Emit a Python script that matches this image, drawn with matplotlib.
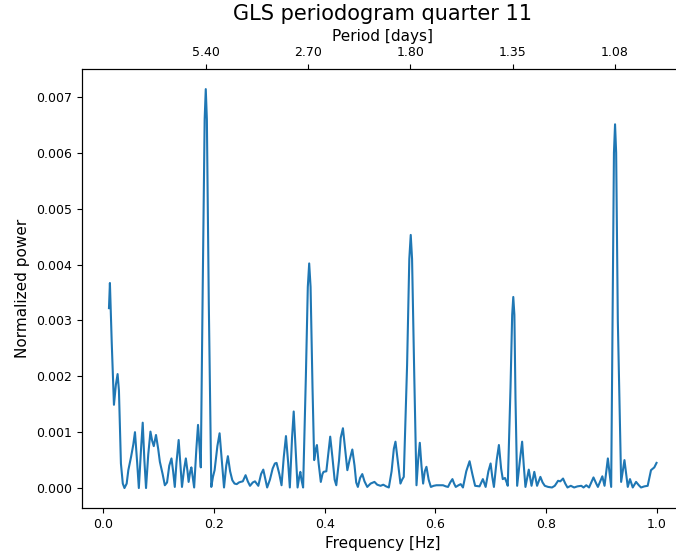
import numpy as np
import matplotlib.pyplot as plt

# GLS periodogram values (power in units of 1e-3)
freq = [
    0.010, 0.0117, 0.015, 0.019, 0.0225, 0.0256, 0.028, 0.0316, 0.035, 0.038,
    0.042, 0.045, 0.050, 0.054, 0.057, 0.061, 0.064, 0.068, 0.071, 0.074,
    0.077, 0.081, 0.085, 0.088, 0.091, 0.095, 0.099, 0.102, 0.107, 0.111,
    0.115, 0.119, 0.123, 0.126, 0.129, 0.132, 0.136, 0.139, 0.142, 0.146,
    0.149, 0.152, 0.154, 0.157, 0.159, 0.162, 0.164, 0.168, 0.171, 0.174,
    0.176, 0.1795, 0.183, 0.185, 0.187, 0.1905, 0.195, 0.198, 0.201, 0.206,
    0.210, 0.214, 0.218, 0.222, 0.225, 0.229, 0.233, 0.237, 0.241, 0.245,
    0.248, 0.252, 0.257, 0.261, 0.265, 0.270, 0.274, 0.277, 0.280, 0.285,
    0.289, 0.293, 0.296, 0.301, 0.306, 0.310, 0.313, 0.318, 0.322, 0.326,
    0.330, 0.334, 0.337, 0.341, 0.344, 0.348, 0.351, 0.354, 0.356, 0.358,
    0.361, 0.366, 0.3695, 0.372, 0.3745, 0.378, 0.381, 0.384, 0.386, 0.389,
    0.393, 0.396, 0.398, 0.403, 0.407, 0.410, 0.414, 0.418, 0.421, 0.426,
    0.429, 0.433, 0.437, 0.441, 0.445, 0.450, 0.454, 0.457, 0.460, 0.464,
    0.468, 0.472, 0.477, 0.483, 0.490, 0.495, 0.501, 0.506, 0.511, 0.516,
    0.521, 0.525, 0.528, 0.532, 0.537, 0.540, 0.543, 0.549, 0.553, 0.5556,
    0.558, 0.562, 0.566, 0.569, 0.572, 0.575, 0.578, 0.581, 0.584, 0.588,
    0.592, 0.597, 0.602, 0.608, 0.614, 0.619, 0.623, 0.627, 0.631, 0.634,
    0.637, 0.642, 0.646, 0.650, 0.656, 0.662, 0.667, 0.672, 0.680, 0.686,
    0.691, 0.696, 0.700, 0.703, 0.706, 0.711, 0.715, 0.719, 0.722, 0.726,
    0.729, 0.731, 0.736, 0.739, 0.741, 0.743, 0.745, 0.748, 0.753, 0.757,
    0.760, 0.763, 0.769, 0.774, 0.779, 0.784, 0.790, 0.794, 0.798, 0.804,
    0.811, 0.816, 0.822, 0.826, 0.831, 0.835, 0.839, 0.845, 0.851, 0.857,
    0.864, 0.868, 0.873, 0.878, 0.886, 0.891, 0.894, 0.902, 0.906, 0.912,
    0.918, 0.9205, 0.923, 0.925, 0.927, 0.930, 0.936, 0.942, 0.948, 0.952,
    0.957, 0.963, 0.968, 0.972, 0.978, 0.984, 0.990, 0.996, 1.000,
]
power_e3 = [
    3.22, 3.67, 2.60, 1.49, 1.85, 2.04, 1.75, 0.44, 0.08, 0.00,
    0.08, 0.32, 0.56, 0.78, 1.00, 0.45, 0.00, 0.70, 1.17, 0.50,
    0.00, 0.60, 1.01, 0.85, 0.75, 0.95, 0.70, 0.47, 0.25, 0.05,
    0.10, 0.40, 0.53, 0.30, 0.02, 0.45, 0.86, 0.45, 0.02, 0.35,
    0.53, 0.30, 0.11, 0.30, 0.37, 0.15, 0.01, 0.70, 1.13, 0.70,
    0.37, 3.60, 6.60, 7.14, 6.60, 3.30, 0.02, 0.20, 0.32, 0.75,
    0.98, 0.50, 0.01, 0.40, 0.57, 0.30, 0.14, 0.08, 0.07, 0.10,
    0.11, 0.12, 0.23, 0.12, 0.04, 0.10, 0.12, 0.08, 0.04, 0.25,
    0.33, 0.15, 0.01, 0.15, 0.35, 0.44, 0.45, 0.25, 0.05, 0.55,
    0.93, 0.45, 0.01, 0.90, 1.37, 0.60, 0.01, 0.20, 0.29, 0.15,
    0.01, 2.00, 3.60, 4.02, 3.60, 1.80, 0.50, 0.70, 0.77, 0.45,
    0.11, 0.25, 0.29, 0.30, 0.65, 0.92, 0.55, 0.15, 0.05, 0.50,
    0.90, 1.07, 0.70, 0.32, 0.50, 0.69, 0.40, 0.10, 0.02, 0.18,
    0.25, 0.12, 0.02, 0.08, 0.11, 0.06, 0.04, 0.06, 0.03, 0.01,
    0.30, 0.70, 0.83, 0.50, 0.08, 0.15, 0.20, 2.20, 4.10, 4.53,
    4.10, 2.00, 0.05, 0.50, 0.81, 0.40, 0.08, 0.30, 0.38, 0.15,
    0.02, 0.04, 0.05, 0.05, 0.05, 0.03, 0.02, 0.10, 0.16, 0.08,
    0.02, 0.05, 0.07, 0.01, 0.30, 0.48, 0.25, 0.04, 0.03, 0.16,
    0.02, 0.30, 0.44, 0.20, 0.02, 0.50, 0.77, 0.35, 0.16, 0.18,
    0.10, 0.04, 1.80, 3.10, 3.42, 3.10, 1.60, 0.04, 0.50, 0.83,
    0.40, 0.02, 0.33, 0.04, 0.29, 0.04, 0.20, 0.10, 0.04, 0.02,
    0.01, 0.04, 0.13, 0.12, 0.17, 0.08, 0.01, 0.04, 0.01, 0.03,
    0.04, 0.01, 0.05, 0.01, 0.19, 0.08, 0.02, 0.21, 0.04, 0.53,
    0.02, 3.00, 6.00, 6.51, 6.00, 3.00, 0.11, 0.50, 0.02, 0.16,
    0.01, 0.11, 0.05, 0.01, 0.03, 0.04, 0.32, 0.37, 0.45,
]

# top axis: period ticks at the main peaks
period_freqs = [0.185, 0.370, 0.555, 0.740, 0.925]
period_labels = ['5.40', '2.70', '1.80', '1.35', '1.08']

freq = np.array(freq)
power = np.array(power_e3) * 1e-3

fig = plt.figure(figsize=(6.76, 5.55), dpi=100)
ax = fig.add_axes([0.1207, 0.0847, 0.891, 0.791])
ax.plot(freq, power, color='tab:blue', lw=1.5)
ax.set_xlim(-0.0395, 1.0495)
ax.set_ylim(-0.000357, 0.0075)
ax.set_xticks([0.0, 0.2, 0.4, 0.6, 0.8, 1.0])
ax.set_yticks(np.arange(0, 0.0071, 0.001))
ax.yaxis.set_major_formatter(plt.FormatStrFormatter('%.3f'))
ax.tick_params(labelsize=9)
ax.set_xlabel('Frequency [Hz]', fontsize=11)
ax.set_ylabel('Normalized power', fontsize=11)

ax2 = ax.twiny()
ax2.set_xlim(ax.get_xlim())
ax2.set_xticks(period_freqs)
ax2.set_xticklabels(period_labels)
ax2.tick_params(labelsize=9)
ax2.set_xlabel('Period [days]', fontsize=11)
ax2.set_title('GLS periodogram quarter 11', fontsize=15)

fig.savefig('out.png', dpi=100)
